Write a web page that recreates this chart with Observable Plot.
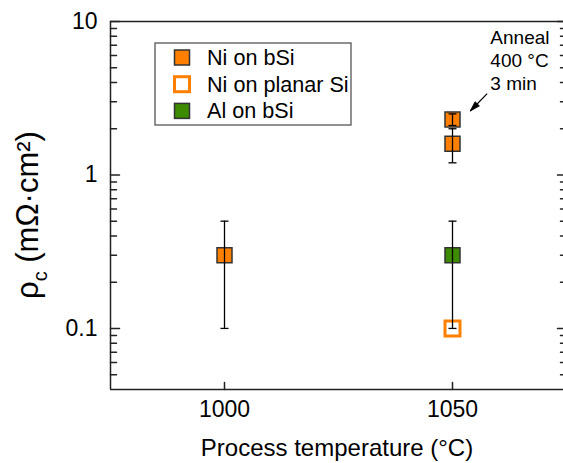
<!DOCTYPE html>
<html><head><meta charset="utf-8">
<script src="https://cdn.jsdelivr.net/npm/d3@7"></script>
<script src="https://cdn.jsdelivr.net/npm/@observablehq/plot@0.6"></script>
<style>body{margin:0;background:#fff}</style>
</head><body><div id="chart"></div>
<script>
// ---- data ----
const seriesNames = ["Ni on bSi", "Ni on planar Si", "Al on bSi"];
const seriesFill = ["#ff8000", "#ffffff", "#3d8b00"];
const seriesStroke = ["#333333", "#ff8000", "#333333"];
const seriesStrokeWidth = [1.5, 3, 1.5];
const pointSeries = ["Ni on bSi", "Ni on bSi", "Ni on bSi", "Ni on planar Si", "Al on bSi"];
const pointTemp = [1000, 1050, 1050, 1050, 1050];
const pointRho = [0.3, 2.3, 1.6, 0.1, 0.3];
const errLow = [0.1, 2.1, 1.2, null, 0.1];
const errHigh = [0.5, 2.5, 2.0, null, 0.5];
const xTicks = [1000, 1050];
const yMajor = [0.1, 1, 10];
const yMinor = [0.05, 0.06, 0.07, 0.08, 0.09, 0.2, 0.3, 0.4, 0.5, 0.6, 0.7, 0.8, 0.9, 2, 3, 4, 5, 6, 7, 8, 9];
const annotationLines = ["Anneal", "400 °C", "3 min"];
const annotationAt = {x: 1058.3, y: 5.65};
const arrowFrom = {x: 1057.6, y: 3.39};
const arrowTo = {x: 1053.9, y: 2.61};

const points = pointTemp.map((t, i) => ({
  temp: t, rho: pointRho[i], lo: errLow[i], hi: errHigh[i], series: pointSeries[i],
  k: seriesNames.indexOf(pointSeries[i])
}));
const errs = points.filter(d => d.lo != null);
const caps = errs.flatMap(d => [{temp: d.temp, v: d.lo}, {temp: d.temp, v: d.hi}]);

const tickShape = {draw(ctx, l) { ctx.moveTo(0, 0); ctx.lineTo(0, -l); }};
const capSymbol = {draw(ctx, size) { const w = Math.sqrt(size / Math.PI); ctx.moveTo(-w, 0); ctx.lineTo(w, 0); }};
const headSymbol = {draw(ctx) { ctx.moveTo(0, 0); ctx.lineTo(-3, 10); ctx.lineTo(3, 10); ctx.closePath(); }};
const FONT = "Liberation Sans, Arial, sans-serif";
const axisColor = "#222";

const legendMark = (index, scales, values, dims) => {
  const g = d3.create("svg:g").attr("text-anchor", "start");
  const x0 = dims.marginLeft + 45, y0 = dims.marginTop + 22;
  g.append("rect").attr("x", x0).attr("y", y0).attr("width", 196).attr("height", 82)
    .attr("fill", "white").attr("stroke", "#555").attr("stroke-width", 1.3);
  seriesNames.forEach((name, i) => {
    const cy = y0 + 14.5 + i * 26.7;
    g.append("rect").attr("x", x0 + 19.5).attr("y", cy - 7.5).attr("width", 15).attr("height", 15)
      .attr("fill", seriesFill[i]).attr("stroke", seriesStroke[i]).attr("stroke-width", seriesStrokeWidth[i]);
    g.append("text").attr("x", x0 + 52).attr("y", cy).attr("dy", "0.35em")
      .attr("text-anchor", "start").attr("font-size", 21.6).attr("fill", "black").text(name);
  });
  return g.node();
};

const yLabelMark = () => {
  const t = d3.create("svg:text").attr("transform", "translate(38,299) rotate(-90)")
    .attr("text-anchor", "start").attr("font-size", 31).attr("fill", "black");
  t.append("tspan").text("ρ");
  t.append("tspan").attr("font-size", 20).attr("dy", 9).text("c");
  t.append("tspan").attr("dy", -9).text(" (mΩ·cm²)");
  return t.node();
};

const chart = Plot.plot({
  width: 563, height: 463,
  marginLeft: 110, marginRight: 0, marginTop: 21, marginBottom: 74,
  x: {domain: [975, 1075], range: [110, 566]},
  y: {type: "log", domain: [0.04, 10]},
  style: {fontFamily: FONT, fontSize: "23px", color: "#000", background: "white"},
  marks: [
    Plot.ruleX([975, 1075], {stroke: axisColor, strokeWidth: 1.5}),
    Plot.ruleY([0.04, 10], {stroke: axisColor, strokeWidth: 1.5}),
    Plot.vector(yMajor, {x: () => 975, y: d => d, rotate: 90, length: 9, anchor: "start", shape: tickShape, stroke: axisColor, strokeWidth: 1.5}),
    Plot.vector(yMinor, {x: () => 975, y: d => d, rotate: 90, length: 6, anchor: "start", shape: tickShape, stroke: axisColor, strokeWidth: 1.5}),
    Plot.vector(yMajor, {x: () => 1075, y: d => d, rotate: -90, length: 9, anchor: "start", shape: tickShape, stroke: axisColor, strokeWidth: 1.5}),
    Plot.vector(yMinor, {x: () => 1075, y: d => d, rotate: -90, length: 6, anchor: "start", shape: tickShape, stroke: axisColor, strokeWidth: 1.5}),
    Plot.vector(xTicks, {x: d => d, y: () => 0.04, rotate: 0, length: 7, anchor: "start", shape: tickShape, stroke: axisColor, strokeWidth: 1.5}),
    Plot.axisY(yMajor, {tickSize: 0, tickPadding: 13, tickFormat: d => String(d), label: null, fontSize: 23}),
    Plot.axisX(xTicks, {tickSize: 0, tickPadding: 11, tickFormat: d => String(d), label: null, fontSize: 23}),
    Plot.dot(points, {x: "temp", y: "rho", symbol: "square", r: 8.46,
      fill: d => seriesFill[d.k], stroke: d => seriesStroke[d.k], strokeWidth: d => seriesStrokeWidth[d.k]}),
    Plot.ruleX(errs, {x: "temp", y1: "lo", y2: "hi", stroke: "black", strokeWidth: 1.3}),
    Plot.dot(caps, {x: "temp", y: "v", symbol: capSymbol, r: 4, stroke: "black", strokeWidth: 1.3, fill: "none"}),
    Plot.text([annotationLines.join("\n")], {x: annotationAt.x, y: annotationAt.y, text: d => d,
      textAnchor: "start", lineAnchor: "middle", lineHeight: 1.22, fontSize: 19, fill: "black"}),
    Plot.link([0], {x1: arrowFrom.x, y1: arrowFrom.y, x2: arrowTo.x, y2: arrowTo.y,
      stroke: "black", strokeWidth: 1.2}),
    Plot.dot([0], {x: () => arrowTo.x, y: () => arrowTo.y, symbol: headSymbol, rotate: 224,
      fill: "black", stroke: "black", strokeWidth: 0.8}),
    Plot.text(["Process temperature (°C)"], {frameAnchor: "bottom", dy: 59, lineAnchor: "middle",
      text: d => d, fontSize: 24, fill: "black"}),
    legendMark,
    yLabelMark
  ]
});
document.getElementById("chart").append(chart);
</script>
</body></html>
